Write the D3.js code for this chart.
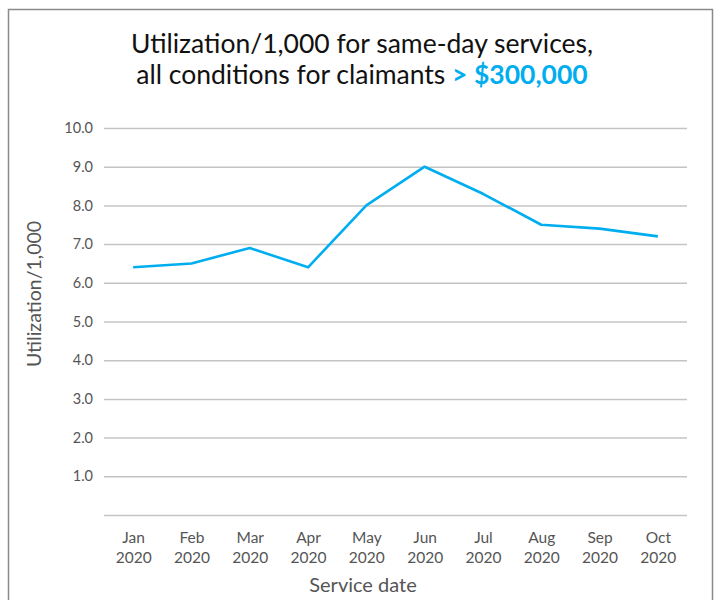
<!DOCTYPE html>
<html><head><meta charset="utf-8">
<script src="https://cdn.jsdelivr.net/npm/d3@7"></script>
<style>
html,body{margin:0;padding:0;background:#fff;}
svg{display:block;font-family:Lato, "Open Sans", sans-serif;}
</style></head>
<body>
<svg id="chart" width="717" height="600"></svg>
<script>
const months = ["Jan","Feb","Mar","Apr","May","Jun","Jul","Aug","Sep","Oct"];
const years = ["2020","2020","2020","2020","2020","2020","2020","2020","2020","2020"];
const values = [6.4, 6.5, 6.9, 6.4, 8.0, 9.0, 8.3, 7.5, 7.4, 7.2];
const yTicks = [1,2,3,4,5,6,7,8,9,10];

(function(){
const svg = d3.select("#chart");
svg.append("rect").attr("x",8.5).attr("y",9.5).attr("width",704).attr("height",620)
  .attr("fill","none").attr("stroke","#8a8a8a").attr("stroke-width",1.5);

const pLeft=104, pRight=687, pTop=128, pBottom=515;
const x = d3.scalePoint().domain(d3.range(months.length)).range([pLeft,pRight]).padding(0.5);
const y = d3.scaleLinear().domain([0,10]).range([pBottom,pTop]);

const grid = svg.append("g").attr("transform",`translate(${pLeft},0)`)
  .call(d3.axisLeft(y).tickValues([0].concat(yTicks)).tickSize(-(pRight-pLeft)).tickFormat(""));
grid.select(".domain").remove();
grid.selectAll("line").attr("stroke","#c4c4c4").attr("stroke-width",1.5);

const yl = svg.append("g").attr("transform",`translate(${pLeft},0)`)
  .call(d3.axisLeft(y).tickValues(yTicks).tickSize(0).tickPadding(11).tickFormat(d3.format(".1f")));
yl.select(".domain").remove();
yl.selectAll("text").attr("font-size",14.5).attr("fill","#555").attr("font-family","Lato, sans-serif");

const xl = svg.append("g").attr("transform",`translate(0,${pBottom})`)
  .call(d3.axisBottom(x).tickSize(0).tickFormat(""));
xl.select(".domain").remove();
xl.selectAll(".tick").each(function(d){
  const t = d3.select(this).append("text").attr("fill","#555").attr("font-size",15.5)
    .attr("text-anchor","middle").attr("font-family","Lato, sans-serif");
  t.append("tspan").attr("x",0).attr("y",28).text(months[d]);
  t.append("tspan").attr("x",0).attr("y",47.5).text(years[d]);
});

svg.append("path").datum(values)
  .attr("d", d3.line().x((d,i)=>x(i)).y(d=>y(d)))
  .attr("fill","none").attr("stroke","#00aeef").attr("stroke-width",2.6).attr("stroke-linejoin","round");

svg.append("text").attr("x",362).attr("y",53).attr("text-anchor","middle")
  .attr("font-size",26.5).attr("fill","#111").text("Utilization/1,000 for same-day services,");
const t2 = svg.append("text").attr("x",362).attr("y",83.5).attr("text-anchor","middle")
  .attr("font-size",26.5).attr("fill","#111");
t2.append("tspan").text("all conditions for claimants ");
t2.append("tspan").attr("fill","#00aeef").attr("font-weight","bold").text("> $300,000");

svg.append("text").attr("transform","translate(41,294) rotate(-90)").attr("text-anchor","middle")
  .attr("font-size",19.5).attr("fill","#555").text("Utilization/1,000");
svg.append("text").attr("x",363).attr("y",592).attr("text-anchor","middle")
  .attr("font-size",20).attr("fill","#555").text("Service date");
})();
</script>
</body></html>
